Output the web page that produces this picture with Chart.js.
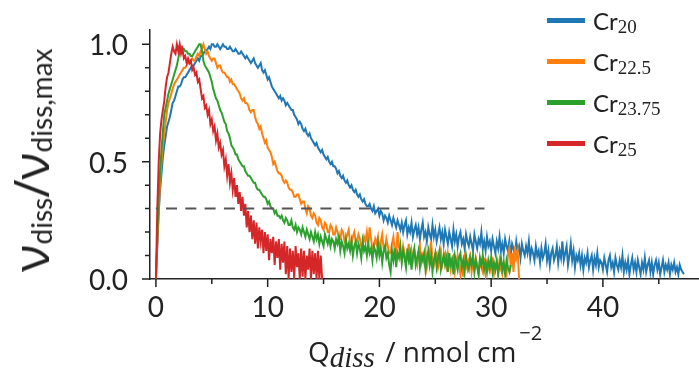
<!DOCTYPE html>
<html>
<head>
<meta charset="utf-8">
<script src="https://cdn.jsdelivr.net/npm/chart.js@4.4.1/dist/chart.umd.min.js"></script>
<style>
  body { margin: 0; background: #fff; }
  #wrap { position: relative; width: 699px; height: 371px; overflow: hidden; }
  #plot { position: absolute; left: 0; top: 0; }
  .txt { position: absolute; white-space: nowrap; color: #222; }
  .lo, .hi { position: relative; }
  #ylab { font-family: "Open Sans", sans-serif; font-size: 50px; line-height: 50px;
          left: 34px; top: 160px; transform: translate(-50%, -50%) rotate(-90deg); }
  #ylab .lo { font-family: Lato, sans-serif; font-size: 28px; top: 3px; }
  #xlab { font-family: "Open Sans", sans-serif; font-size: 28px; line-height: 28px; left: 308px; top: 337px; }
  #xlab .lo { font-family: "Liberation Serif", serif; font-style: italic; font-size: 29px; top: 5px; margin-right: 3px; }
  #xlab .hi { font-size: 20px; top: -22px; margin-left: 3px; }
  .key { position: absolute; left: 547px; width: 38px; height: 5px; }
  .ktxt { font-family: Lato, sans-serif; font-size: 24px; line-height: 24px; left: 593px; }
  .ktxt .lo { font-family: "Liberation Serif", serif; font-size: 19px; top: 3px; }
</style>
</head>
<body>
<div id="wrap">
  <canvas id="plot" width="699" height="371"></canvas>
  <div id="ylab" class="txt">ν<span class="lo">diss</span>/ν<span class="lo">diss,max</span></div>
  <div id="xlab" class="txt">Q<span class="lo">diss</span> / nmol cm<span class="hi">−2</span></div>
  <div id="legend"></div>
</div>
<script>
// sampling interval of the dissolution curves (nmol cm-2), first value at Q = 0
const qStep = 0.125;

// normalised dissolution rate v_diss / v_diss,max, 16 values per row = 2 nmol cm-2
const cr20 = [
  0.00, 0.14, 0.28, 0.38, 0.45, 0.52, 0.57, 0.61, 0.65, 0.67, 0.69, 0.72, 0.75, 0.76, 0.78, 0.80,
  0.82, 0.82, 0.83, 0.85, 0.86, 0.86, 0.87, 0.88, 0.89, 0.90, 0.91, 0.91, 0.92, 0.93, 0.94, 0.93,
  0.95, 0.95, 0.96, 0.97, 0.97, 0.98, 0.99, 0.98, 1.00, 1.00, 0.99, 0.99, 1.00, 0.99, 0.98, 0.99,
  1.00, 0.99, 0.99, 0.98, 0.98, 0.99, 0.98, 0.97, 0.97, 0.98, 0.97, 0.96, 0.96, 0.97, 0.96, 0.95,
  0.94, 0.95, 0.94, 0.93, 0.92, 0.93, 0.94, 0.92, 0.91, 0.90, 0.91, 0.92, 0.89, 0.88, 0.89, 0.87,
  0.85, 0.86, 0.84, 0.82, 0.81, 0.80, 0.79, 0.78, 0.77, 0.78, 0.76, 0.77, 0.76, 0.74, 0.75, 0.74,
  0.73, 0.72, 0.72, 0.70, 0.69, 0.68, 0.66, 0.67, 0.66, 0.64, 0.63, 0.64, 0.62, 0.61, 0.62, 0.60,
  0.59, 0.58, 0.57, 0.58, 0.56, 0.55, 0.54, 0.55, 0.53, 0.52, 0.51, 0.52, 0.50, 0.49, 0.50, 0.48,
  0.48, 0.47, 0.45, 0.46, 0.44, 0.43, 0.44, 0.42, 0.41, 0.42, 0.40, 0.39, 0.40, 0.38, 0.37, 0.38,
  0.36, 0.35, 0.36, 0.34, 0.33, 0.34, 0.32, 0.31, 0.31, 0.32, 0.30, 0.29, 0.31, 0.28, 0.29, 0.30,
  0.27, 0.29, 0.28, 0.25, 0.27, 0.26, 0.24, 0.27, 0.25, 0.23, 0.26, 0.24, 0.22, 0.25, 0.23, 0.21,
  0.24, 0.20, 0.23, 0.25, 0.19, 0.22, 0.20, 0.24, 0.18, 0.21, 0.23, 0.19, 0.22, 0.17, 0.21, 0.24,
  0.18, 0.20, 0.16, 0.22, 0.19, 0.17, 0.23, 0.18, 0.21, 0.16, 0.19, 0.22, 0.17, 0.20, 0.15, 0.21,
  0.18, 0.15, 0.20, 0.17, 0.14, 0.21, 0.16, 0.19, 0.14, 0.18, 0.20, 0.15, 0.17, 0.13, 0.19, 0.16,
  0.14, 0.18, 0.15, 0.12, 0.19, 0.16, 0.13, 0.17, 0.15, 0.20, 0.13, 0.16, 0.12, 0.18, 0.14, 0.16,
  0.12, 0.17, 0.14, 0.11, 0.16, 0.13, 0.18, 0.12, 0.15, 0.11, 0.17, 0.14, 0.12, 0.16, 0.10, 0.15,
  0.13, 0.10, 0.16, 0.12, 0.14, 0.09, 0.15, 0.12, 0.10, 0.14, 0.11, 0.16, 0.09, 0.13, 0.11, 0.08,
  0.14, 0.10, 0.12, 0.07, 0.13, 0.09, 0.11, 0.15, 0.08, 0.12, 0.06, 0.11, 0.13, 0.08, 0.10, 0.14,
  0.07, 0.12, 0.09, 0.16, 0.08, 0.11, 0.14, 0.06, 0.10, 0.15, 0.08, 0.12, 0.05, 0.10, 0.08, 0.11,
  0.06, 0.10, 0.04, 0.09, 0.07, 0.11, 0.05, 0.08, 0.10, 0.04, 0.09, 0.06, 0.11, 0.05, 0.08, 0.07,
  0.04, 0.09, 0.06, 0.03, 0.08, 0.10, 0.05, 0.07, 0.03, 0.09, 0.06, 0.04, 0.08, 0.05, 0.10, 0.03,
  0.07, 0.04, 0.08, 0.02, 0.06, 0.09, 0.04, 0.07, 0.03, 0.08, 0.05, 0.02, 0.07, 0.04, 0.09, 0.03,
  0.06, 0.08, 0.03, 0.07, 0.02, 0.06, 0.08, 0.04, 0.07, 0.02, 0.05, 0.08, 0.03, 0.06, 0.04, 0.07,
  0.02, 0.06, 0.04, 0.07, 0.03, 0.05, 0.02, 0.06, 0.04, 0.03, 0.02
];
const cr22_5 = [
  0.00, 0.16, 0.30, 0.41, 0.50, 0.57, 0.62, 0.67, 0.72, 0.75, 0.77, 0.79, 0.81, 0.83, 0.84, 0.85,
  0.86, 0.87, 0.88, 0.89, 0.90, 0.90, 0.91, 0.92, 0.92, 0.93, 0.94, 0.93, 0.93, 0.95, 0.96, 0.95,
  0.97, 0.98, 1.00, 0.98, 0.96, 0.97, 0.95, 0.94, 0.93, 0.94, 0.94, 0.92, 0.90, 0.91, 0.91, 0.89,
  0.88, 0.88, 0.87, 0.86, 0.86, 0.84, 0.85, 0.83, 0.83, 0.82, 0.81, 0.80, 0.79, 0.77, 0.76, 0.77,
  0.75, 0.75, 0.74, 0.72, 0.71, 0.72, 0.72, 0.69, 0.67, 0.66, 0.64, 0.65, 0.62, 0.60, 0.58, 0.59,
  0.56, 0.55, 0.54, 0.52, 0.49, 0.50, 0.48, 0.46, 0.45, 0.45, 0.44, 0.42, 0.41, 0.42, 0.41, 0.39,
  0.38, 0.38, 0.37, 0.35, 0.35, 0.36, 0.36, 0.34, 0.32, 0.33, 0.33, 0.30, 0.28, 0.31, 0.30, 0.27,
  0.26, 0.28, 0.27, 0.24, 0.23, 0.26, 0.25, 0.22, 0.21, 0.24, 0.23, 0.20, 0.20, 0.23, 0.22, 0.19,
  0.19, 0.22, 0.20, 0.17, 0.17, 0.21, 0.20, 0.16, 0.17, 0.19, 0.21, 0.15, 0.15, 0.18, 0.20, 0.16,
  0.16, 0.19, 0.17, 0.14, 0.14, 0.18, 0.16, 0.20, 0.14, 0.22, 0.17, 0.13, 0.13, 0.17, 0.15, 0.18,
  0.12, 0.16, 0.19, 0.13, 0.12, 0.17, 0.14, 0.11, 0.11, 0.15, 0.18, 0.12, 0.11, 0.20, 0.14, 0.10,
  0.08, 0.14, 0.11, 0.07, 0.10, 0.15, 0.06, 0.12, 0.08, 0.12, 0.09, 0.06, 0.11, 0.14, 0.07, 0.10,
  0.07, 0.12, 0.05, 0.09, 0.11, 0.16, 0.08, 0.06, 0.10, 0.11, 0.05, 0.08, 0.12, 0.06, 0.09, 0.11,
  0.06, 0.11, 0.08, 0.04, 0.09, 0.10, 0.03, 0.07, 0.10, 0.06, 0.02, 0.08, 0.01, 0.09, 0.06, 0.04,
  0.08, 0.10, 0.03, 0.07, 0.04, 0.09, 0.06, 0.02, 0.08, 0.05, 0.03, 0.09, 0.02, 0.07, 0.05, 0.03,
  0.06, 0.08, 0.02, 0.05, 0.07, 0.03, 0.08, 0.04, 0.02, 0.07, 0.04, 0.02, 0.10, 0.13, 0.06, 0.11,
  0.03, 0.14, 0.09, 0.12, 0.00
];
const cr23_75 = [
  0.00, 0.18, 0.35, 0.46, 0.55, 0.63, 0.70, 0.73, 0.76, 0.79, 0.81, 0.83, 0.85, 0.87, 0.89, 0.91,
  0.94, 0.97, 0.99, 0.98, 0.98, 0.97, 0.97, 0.96, 0.96, 0.95, 0.95, 0.96, 0.97, 0.98, 0.99, 1.00,
  1.00, 0.97, 0.93, 0.91, 0.90, 0.89, 0.88, 0.86, 0.84, 0.81, 0.79, 0.77, 0.76, 0.74, 0.72, 0.71,
  0.69, 0.67, 0.66, 0.63, 0.62, 0.60, 0.57, 0.56, 0.55, 0.53, 0.53, 0.51, 0.50, 0.49, 0.48, 0.48,
  0.46, 0.45, 0.44, 0.44, 0.43, 0.42, 0.41, 0.41, 0.39, 0.38, 0.38, 0.37, 0.36, 0.35, 0.35, 0.34,
  0.32, 0.33, 0.31, 0.30, 0.30, 0.28, 0.29, 0.27, 0.27, 0.26, 0.27, 0.25, 0.24, 0.26, 0.25, 0.23,
  0.23, 0.25, 0.22, 0.21, 0.23, 0.20, 0.22, 0.21, 0.19, 0.22, 0.20, 0.18, 0.21, 0.19, 0.17, 0.20,
  0.18, 0.16, 0.20, 0.17, 0.19, 0.15, 0.18, 0.16, 0.14, 0.19, 0.17, 0.15, 0.18, 0.14, 0.17, 0.16,
  0.13, 0.17, 0.15, 0.18, 0.12, 0.16, 0.14, 0.11, 0.17, 0.13, 0.15, 0.12, 0.16, 0.10, 0.14, 0.16,
  0.11, 0.15, 0.13, 0.09, 0.16, 0.12, 0.14, 0.10, 0.15, 0.11, 0.13, 0.08, 0.14, 0.12, 0.09, 0.15,
  0.10, 0.13, 0.07, 0.12, 0.14, 0.09, 0.11, 0.06, 0.03, 0.12, 0.08, 0.13, 0.05, 0.11, 0.09, 0.14,
  0.07, 0.12, 0.09, 0.05, 0.13, 0.08, 0.11, 0.04, 0.10, 0.13, 0.06, 0.09, 0.12, 0.05, 0.10, 0.08,
  0.11, 0.04, 0.09, 0.12, 0.06, 0.10, 0.03, 0.08, 0.11, 0.05, 0.09, 0.12, 0.04, 0.07, 0.10, 0.06,
  0.09, 0.03, 0.11, 0.06, 0.08, 0.02, 0.10, 0.07, 0.04, 0.09, 0.11, 0.05, 0.08, 0.03, 0.10, 0.06,
  0.04, 0.09, 0.06, 0.10, 0.03, 0.08, 0.05, 0.02, 0.09, 0.06, 0.10, 0.04, 0.07, 0.03, 0.08, 0.05,
  0.09, 0.03, 0.07, 0.04, 0.08, 0.02, 0.06, 0.09, 0.04, 0.07, 0.02, 0.08, 0.05, 0.03, 0.06
];
const cr25 = [
  0.00, 0.30, 0.50, 0.62, 0.68, 0.72, 0.76, 0.82, 0.86, 0.88, 0.92, 0.96, 0.99, 0.97, 0.96, 1.00,
  0.97, 1.00, 0.96, 0.98, 0.94, 0.95, 0.92, 0.94, 0.92, 0.93, 0.89, 0.90, 0.87, 0.88, 0.84, 0.85,
  0.81, 0.77, 0.78, 0.73, 0.74, 0.70, 0.72, 0.66, 0.68, 0.63, 0.65, 0.59, 0.62, 0.56, 0.58, 0.53,
  0.55, 0.48, 0.51, 0.44, 0.49, 0.41, 0.45, 0.38, 0.43, 0.35, 0.40, 0.32, 0.37, 0.29, 0.35, 0.27,
  0.32, 0.22, 0.29, 0.20, 0.27, 0.17, 0.25, 0.15, 0.24, 0.13, 0.22, 0.16, 0.21, 0.11, 0.20, 0.12,
  0.19, 0.08, 0.17, 0.11, 0.18, 0.06, 0.16, 0.09, 0.17, 0.04, 0.15, 0.07, 0.16, 0.02, 0.14, 0.00,
  0.13, 0.03, 0.12, 0.00, 0.14, 0.05, 0.11, 0.00, 0.13, 0.01, 0.12, 0.00, 0.10, 0.04, 0.13, 0.00,
  0.12, 0.02, 0.11, 0.00, 0.12, 0.00, 0.10, 0.00
];

const seriesLabels = ['20', '22.5', '23.75', '25'];
const seriesColors = ['#1f77b4', '#ff7f0e', '#2ca02c', '#d62728'];
const seriesValues = [cr20, cr22_5, cr23_75, cr25];

// dashed guide at 30 % of the maximum rate
const refLevel = 0.3;
const refLineQ = [0, 29.4];

const xMajorTicks = [0, 10, 20, 30, 40];
const xMinorTicks = [5, 15, 25, 35, 45];
const yMajorTicks = [0, 0.5, 1.0];
const yMinorTicks = [0.1, 0.2, 0.3, 0.4, 0.6, 0.7, 0.8, 0.9];

const datasets = seriesValues.map((vals, i) => ({
  label: 'Cr' + seriesLabels[i],
  data: vals.map((v, k) => ({ x: k * qStep, y: v })),
  borderColor: seriesColors[i],
  borderWidth: 2,
  pointRadius: 0,
  showLine: true,
  order: 4 - i      // later series on top
}));
datasets.push({
  label: 'ref',
  data: refLineQ.map(q => ({ x: q, y: refLevel })),
  borderColor: '#555',
  borderWidth: 2,
  borderDash: [11, 8.3],
  borderDashOffset: 9.2,
  pointRadius: 0,
  showLine: true,
  order: 0
});

// outward tick marks (long = labelled, short = minor) and the tick labels
const axisTicks = {
  id: 'axisTicks',
  afterDraw(chart) {
    const { ctx, chartArea: a } = chart;
    const x = chart.scales.x, y = chart.scales.y;
    ctx.save();
    ctx.strokeStyle = '#222';
    ctx.lineWidth = 1.5;
    ctx.beginPath();
    xMajorTicks.forEach(v => { const p = x.getPixelForValue(v); ctx.moveTo(p, a.bottom); ctx.lineTo(p, a.bottom + 8); });
    xMinorTicks.forEach(v => { const p = x.getPixelForValue(v); ctx.moveTo(p, a.bottom); ctx.lineTo(p, a.bottom + 5); });
    yMajorTicks.forEach(v => { const p = y.getPixelForValue(v); ctx.moveTo(a.left, p); ctx.lineTo(a.left - 8, p); });
    yMinorTicks.forEach(v => { const p = y.getPixelForValue(v); ctx.moveTo(a.left, p); ctx.lineTo(a.left - 5, p); });
    ctx.stroke();

    ctx.fillStyle = '#222';
    ctx.font = '28px Lato';
    ctx.textBaseline = 'alphabetic';
    ctx.textAlign = 'center';
    xMajorTicks.forEach(v => ctx.fillText(String(v), x.getPixelForValue(v), a.bottom + 38));
    ctx.textAlign = 'right';
    yMajorTicks.forEach(v => ctx.fillText(v.toFixed(1), a.left - 22, y.getPixelForValue(v) + 11));
    ctx.restore();
  }
};

new Chart(document.getElementById('plot'), {
  type: 'scatter',
  data: { datasets: datasets },
  options: {
    responsive: false,
    animation: false,
    layout: { padding: { top: 30, right: 0, left: 0, bottom: 0 } },
    plugins: { legend: { display: false }, tooltip: { enabled: false } },
    scales: {
      x: {
        type: 'linear',
        min: -0.53,
        max: 48.6,
        z: 1,
        grid: { display: false, drawTicks: false },
        border: { display: true, color: '#222', width: 1.5 },
        ticks: { display: false },
        afterFit: s => { s.height = 92; }
      },
      y: {
        type: 'linear',
        min: 0,
        max: 1.061,
        z: 1,
        grid: { display: false, drawTicks: false },
        border: { display: true, color: '#222', width: 1.5 },
        ticks: { display: false },
        afterFit: s => { s.width = 150; }
      }
    }
  },
  plugins: [axisTicks]
});

// legend rows with subscripted labels
const legend = document.getElementById('legend');
seriesLabels.forEach((lab, i) => {
  const mid = 20.5 + 41 * i;
  const key = document.createElement('div');
  key.className = 'key';
  key.style.top = (mid - 2.5) + 'px';
  key.style.background = seriesColors[i];
  legend.appendChild(key);
  const t = document.createElement('div');
  t.className = 'txt ktxt';
  t.style.top = (mid + 9.5 - 21.3) + 'px';
  t.innerHTML = 'Cr<span class="lo">' + lab + '</span>';
  legend.appendChild(t);
});
</script>
</body>
</html>
